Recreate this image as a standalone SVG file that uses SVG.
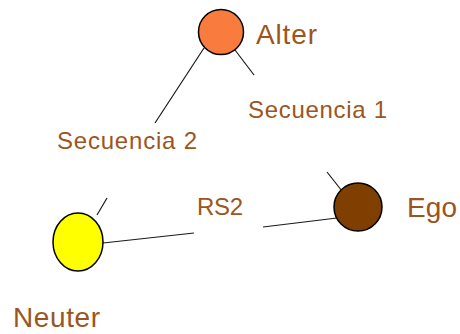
<svg xmlns="http://www.w3.org/2000/svg" width="460" height="334" viewBox="0 0 460 334">
  <style>
    .node { stroke: #000; stroke-width: 1.5; }
    .edge { stroke: #1a1a1a; stroke-width: 1.2; fill: none; }
    .name { font-family: "Liberation Sans", Arial, sans-serif; font-size: 28px; fill: #9c5520; }
    .label { font-family: "Liberation Sans", Arial, sans-serif; font-size: 24px; fill: #9c5520; }
  </style>
  <rect width="460" height="334" fill="#fff"/>

  <g id="connectors">
    <line class="edge" x1="204" y1="48" x2="155" y2="123"/>
    <line class="edge" x1="235" y1="50" x2="254" y2="75"/>
    <line class="edge" x1="107" y1="198" x2="97" y2="215"/>
    <line class="edge" x1="103" y1="243" x2="194" y2="233"/>
    <line class="edge" x1="263" y1="227" x2="337" y2="218"/>
    <line class="edge" x1="327" y1="172" x2="342" y2="191"/>
    <text class="label" x="248" y="118" textLength="139" lengthAdjust="spacing">Secuencia 1</text>
    <text class="label" x="57" y="149" textLength="140" lengthAdjust="spacing">Secuencia 2</text>
    <text class="label" x="197" y="215" textLength="46" lengthAdjust="spacing">RS2</text>
  </g>

  <g id="alter">
    <circle class="node" cx="221" cy="32" r="22.5" fill="#f97c3e"/>
    <text class="name" x="256" y="44" textLength="61" lengthAdjust="spacing">Alter</text>
  </g>

  <g id="ego">
    <circle class="node" cx="358" cy="207" r="24" fill="#7e3f00"/>
    <text class="name" x="407" y="217" textLength="50" lengthAdjust="spacing">Ego</text>
  </g>

  <g id="neuter">
    <ellipse class="node" cx="78" cy="242" rx="25" ry="29" fill="#ffff00"/>
    <text class="name" x="13" y="327" textLength="87" lengthAdjust="spacing">Neuter</text>
  </g>
</svg>
